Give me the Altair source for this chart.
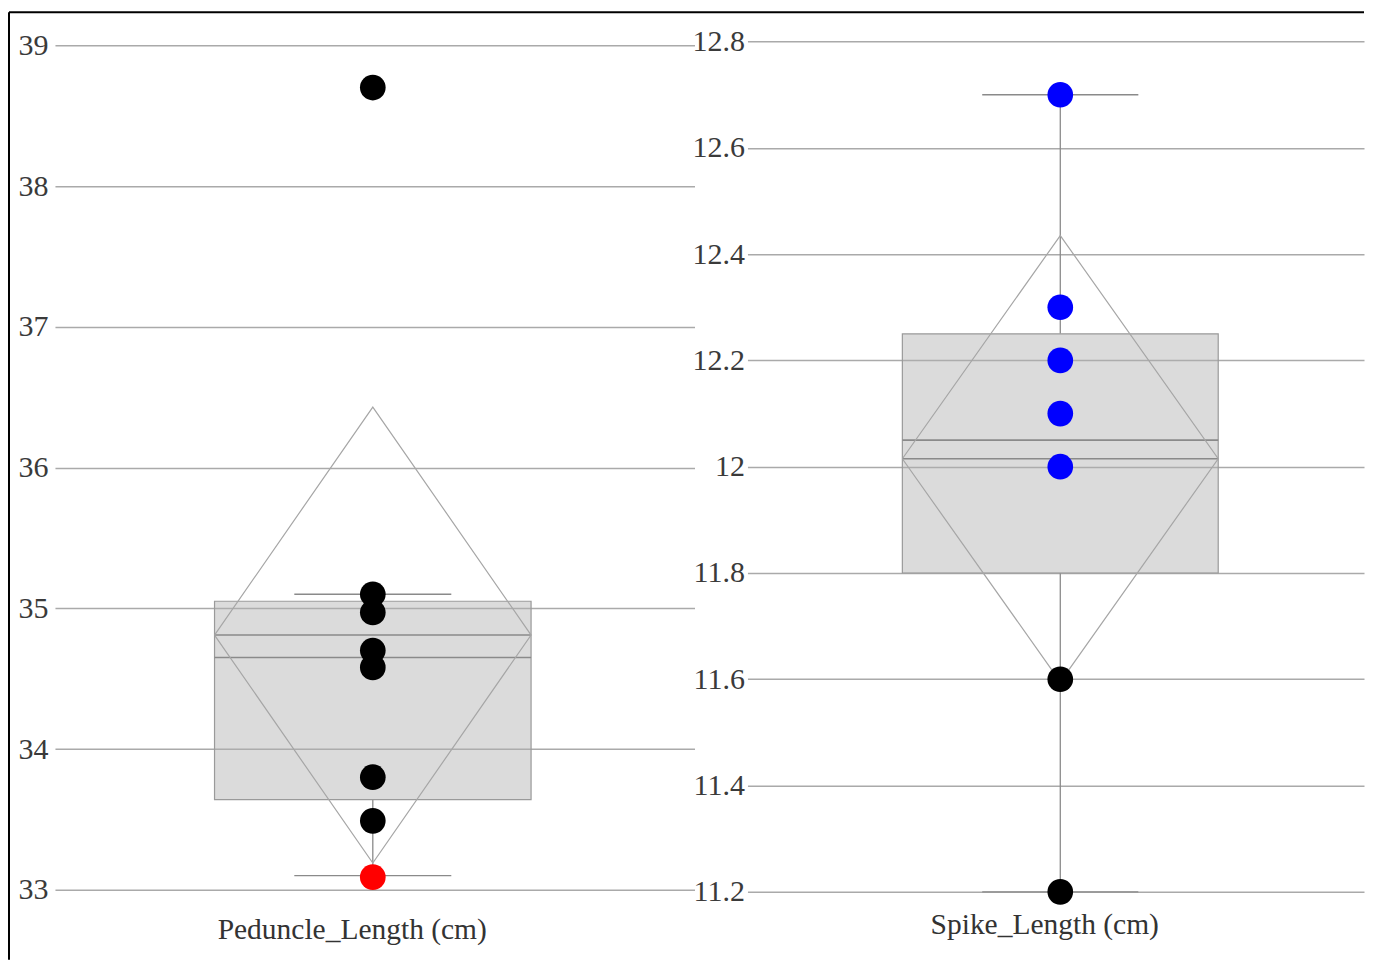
import altair as alt
import pandas as pd

# ---------------- data ----------------
PANELS = ["Peduncle_Length (cm)", "Spike_Length (cm)"]

PED_VALUES = [38.7, 35.1, 34.97, 34.7, 34.58, 33.8, 33.49, 33.09]
PED_COLORS = ["#000000", "#000000", "#000000", "#000000", "#000000", "#000000", "#000000", "#ff0000"]

SPIKE_VALUES = [12.7, 12.3, 12.2, 12.1, 12.0, 11.6, 11.2]
SPIKE_COLORS = ["#0000ff", "#0000ff", "#0000ff", "#0000ff", "#0000ff", "#000000", "#000000"]

Q1 = [33.64, 11.80]
Q3 = [35.05, 12.25]
MEDIAN = [34.65, 12.05]
MEAN = [34.81, 12.015]
CI_LOW = [33.19, 11.595]
CI_HIGH = [36.43, 12.435]
WHISKER_LOW = [33.10, 11.20]
WHISKER_HIGH = [35.10, 12.70]

Y_TICKS_PED = [33, 34, 35, 36, 37, 38, 39]
Y_TICKS_SPIKE = [11.2, 11.4, 11.6, 11.8, 12.0, 12.2, 12.4, 12.6, 12.8]

# ---------------- styles ----------------
FONT = "Liberation Serif"
GRID = "#aaaaaa"
BOX_FILL = "#b0b0b0"
BOX_STROKE = "#9a9a9a"
LINE = "#8a8a8a"
DIAMOND = "#a6a6a6"
PT_SIZE = 660


def panel(i, values, colors, yticks, ydomain, xdomain, box_hw, cap_hw, width,
          title_pad, label_pad, border=False):
    xs = alt.Scale(domain=xdomain, nice=False, zero=False)
    ys = alt.Scale(domain=ydomain, nice=False, zero=False)
    xaxis = alt.Axis(title=PANELS[i], labels=False, ticks=False, domain=False, grid=False,
                     titleFont=FONT, titleFontSize=29.5, titleFontWeight="normal",
                     titleColor="#333333", titlePadding=title_pad, titleX=297,
                     titleAlign="center")
    yaxis = alt.Axis(values=yticks, grid=True, gridColor=GRID, gridWidth=1.5,
                     ticks=False, domain=False, labelFont=FONT, labelFontSize=30,
                     labelColor="#3a3a3a", labelPadding=label_pad, format="~g",
                     title=None)

    def X(f):
        return alt.X(f, type="quantitative", scale=xs, axis=xaxis)

    def Y(f):
        return alt.Y(f, type="quantitative", scale=ys, axis=yaxis)

    stats = pd.DataFrame({
        "x0": [0.0], "xl": [-box_hw], "xr": [box_hw], "cl": [-cap_hw], "cr": [cap_hw],
        "q1": [Q1[i]], "q3": [Q3[i]], "med": [MEDIAN[i]], "mean": [MEAN[i]],
        "wlo": [WHISKER_LOW[i]], "whi": [WHISKER_HIGH[i]],
    })
    diamond = pd.DataFrame({
        "k": [0, 1, 2, 3, 4],
        "x": [-box_hw, 0.0, box_hw, 0.0, -box_hw],
        "y": [MEAN[i], CI_HIGH[i], MEAN[i], CI_LOW[i], MEAN[i]],
    })
    pts = pd.DataFrame({"x0": [0.0] * len(values), "v": values, "c": colors})

    base = alt.Chart(stats)
    w_lo = base.mark_rule(color=LINE, strokeWidth=1.3).encode(x=X("x0"), y=Y("wlo"), y2="q1")
    w_hi = base.mark_rule(color=LINE, strokeWidth=1.3).encode(x=X("x0"), y=Y("q3"), y2="whi")
    box = base.mark_rect(fill=BOX_FILL, fillOpacity=0.45, stroke=BOX_STROKE,
                         strokeWidth=1.2).encode(x=X("xl"), x2="xr", y=Y("q1"), y2="q3")
    med = base.mark_rule(color=LINE, strokeWidth=1.6).encode(x=X("xl"), x2="xr", y=Y("med"))
    mean = base.mark_rule(color=LINE, strokeWidth=1.6).encode(x=X("xl"), x2="xr", y=Y("mean"))
    cap_lo = base.mark_rule(color=LINE, strokeWidth=1.3).encode(x=X("cl"), x2="cr", y=Y("wlo"))
    cap_hi = base.mark_rule(color=LINE, strokeWidth=1.3).encode(x=X("cl"), x2="cr", y=Y("whi"))
    dia = alt.Chart(diamond).mark_line(color=DIAMOND, strokeWidth=1.2).encode(
        x=X("x"), y=Y("y"), order=alt.Order("k:Q"))
    dots = alt.Chart(pts).mark_circle(size=PT_SIZE, opacity=1).encode(
        x=X("x0"), y=Y("v"), color=alt.Color("c:N", scale=None))

    layers = [w_lo, w_hi, box, med, mean, dia, cap_lo, cap_hi, dots]
    if border:
        one = pd.DataFrame({"a": [0]})
        top = alt.Chart(one).mark_rule(color="#000000", strokeWidth=2).encode(
            x=alt.value(-46), x2=alt.value(1310), y=alt.value(-8))
        left = alt.Chart(one).mark_rule(color="#000000", strokeWidth=2).encode(
            x=alt.value(-46), y=alt.value(-8), y2=alt.value(940))
        layers += [top, left]
    return alt.layer(*layers).properties(width=width, height=887)


left_panel = panel(0, PED_VALUES, PED_COLORS, Y_TICKS_PED, [32.88, 39.1775],
                   [-0.988, 1.0], 0.492, 0.244, 640, 9, 7, border=True)
right_panel = panel(1, SPIKE_VALUES, SPIKE_COLORS, Y_TICKS_SPIKE, [11.172, 12.84],
                    [-1.03, 1.0], 0.52, 0.257, 617, 4, 3)

chart = alt.hconcat(left_panel, right_panel, spacing=53, bounds="flush").properties(
    padding={"left": 0, "top": 3, "right": 0, "bottom": 0},
    background="#ffffff",
).configure_view(strokeWidth=0)

chart.save("out.html", embed_options={"renderer": "svg", "actions": False})
